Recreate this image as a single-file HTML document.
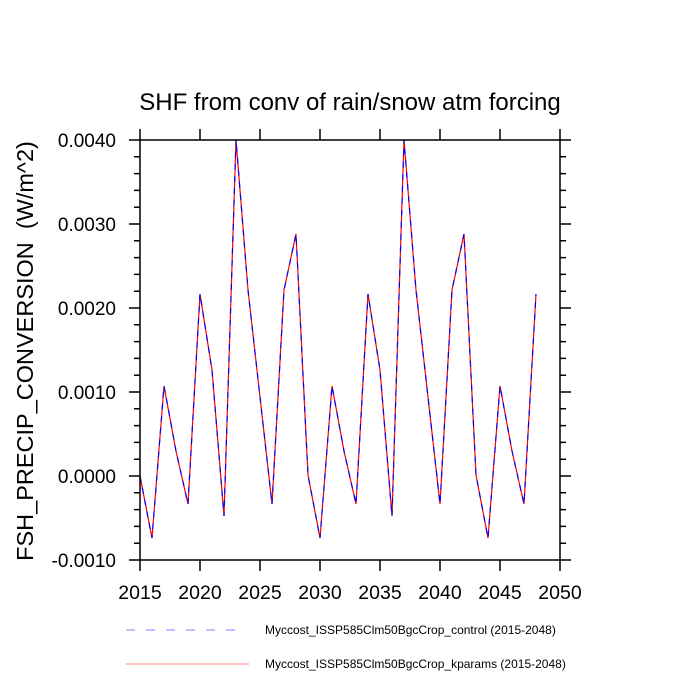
<!DOCTYPE html>
<html><head><meta charset="utf-8"><style>body{margin:0;background:#fff}svg{display:block}</style></head><body>
<svg width="700" height="700" viewBox="0 0 700 700" xmlns="http://www.w3.org/2000/svg" font-family="Liberation Sans, sans-serif">
<rect width="700" height="700" fill="#fff"/>
<text x="350" y="110" font-size="24" text-anchor="middle">SHF from conv of rain/snow atm forcing</text>
<g id="d">
<polyline fill="none" stroke="#ff0000" stroke-width="1.2" points="140,476 152,538 164,386 176,451 188,504 200,294 212,370 224,516 236,140 248,290 260,397 272,504 284,290 296,234 308,475 320,538 332,386 344,451 356,504 368,294 380,370 392,516 404,140 416,290 428,397 440,504 452,290 464,234 476,475 488,538 500,386 512,451 524,504 536,294"/>
<polyline fill="none" stroke="#0000ff" stroke-width="1.2" stroke-dasharray="6,6" points="140,476 152,538 164,386 176,451 188,504 200,294 212,370 224,516 236,140 248,290 260,397 272,504 284,290 296,234 308,475 320,538 332,386 344,451 356,504 368,294 380,370 392,516 404,140 416,290 428,397 440,504 452,290 464,234 476,475 488,538 500,386 512,451 524,504 536,294"/>
</g>
<rect x="140" y="140" width="420" height="420" fill="none" stroke="#000" stroke-width="1.5"/>
<g stroke="#000" stroke-width="1.5">
<path d="M140,140v-11M200,140v-11M260,140v-11M320,140v-11M380,140v-11M440,140v-11M500,140v-11M560,140v-11"/>
<path d="M140,560v11M200,560v11M260,560v11M320,560v11M380,560v11M440,560v11M500,560v11M560,560v11"/>
<path d="M140,140h-11M140,224h-11M140,308h-11M140,392h-11M140,476h-11M140,560h-11"/>
<path d="M560,140h11M560,224h11M560,308h11M560,392h11M560,476h11M560,560h11"/>
<path d="M140,156.8h-6M140,173.6h-6M140,190.4h-6M140,207.2h-6M140,240.8h-6M140,257.6h-6M140,274.4h-6M140,291.2h-6M140,324.8h-6M140,341.6h-6M140,358.4h-6M140,375.2h-6M140,408.8h-6M140,425.6h-6M140,442.4h-6M140,459.2h-6M140,492.8h-6M140,509.6h-6M140,526.4h-6M140,543.2h-6"/>
<path d="M560,156.8h6M560,173.6h6M560,190.4h6M560,207.2h6M560,240.8h6M560,257.6h6M560,274.4h6M560,291.2h6M560,324.8h6M560,341.6h6M560,358.4h6M560,375.2h6M560,408.8h6M560,425.6h6M560,442.4h6M560,459.2h6M560,492.8h6M560,509.6h6M560,526.4h6M560,543.2h6"/>
</g>
<g font-size="19" text-anchor="end">
<text x="116" y="147">0.0040</text><text x="116" y="231">0.0030</text><text x="116" y="315">0.0020</text><text x="116" y="399">0.0010</text><text x="116" y="483">0.0000</text><text x="116" y="567">-0.0010</text>
</g>
<g font-size="19.5" text-anchor="middle">
<text x="140" y="599">2015</text><text x="200" y="599">2020</text><text x="260" y="599">2025</text><text x="320" y="599">2030</text><text x="380" y="599">2035</text><text x="440" y="599">2040</text><text x="500" y="599">2045</text><text x="560" y="599">2050</text>
</g>
<text transform="translate(33,351) rotate(-90)" font-size="23.5" text-anchor="middle">FSH_PRECIP_CONVERSION&#160;&#160;(W/m^2)</text>
<line x1="126" y1="630" x2="243" y2="630" stroke="#8080ff" stroke-width="1" stroke-dasharray="9,11"/>
<line x1="126" y1="664" x2="249" y2="664" stroke="#ff8080" stroke-width="1"/>
<text x="265" y="634" font-size="12">Myccost_ISSP585Clm50BgcCrop_control (2015-2048)</text>
<text x="265" y="668" font-size="12">Myccost_ISSP585Clm50BgcCrop_kparams (2015-2048)</text>
</svg>
</body></html>
